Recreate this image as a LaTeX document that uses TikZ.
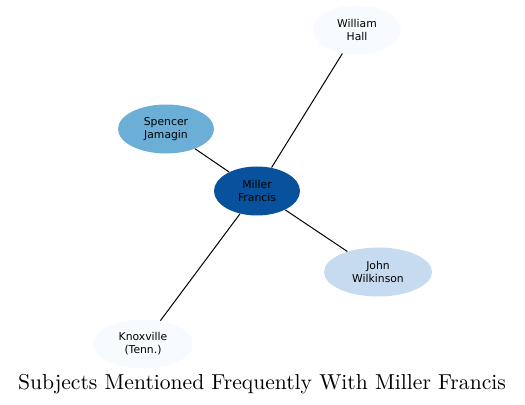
\documentclass[tikz,border=0pt]{standalone}
\usepackage{fontspec}
\usepackage{xcolor}
\usetikzlibrary{shapes.geometric, positioning}
\newfontfamily\subjfont{DejaVu Sans}
\definecolor{BlueDark}{HTML}{08519C}
\definecolor{BlueMid}{HTML}{6BAED6}
\definecolor{BlueLight}{HTML}{C6DBEF}
\definecolor{BlueFaint}{HTML}{F7FBFF}

\begin{document}
\begin{tikzpicture}[x=0.5pt, y=-0.5pt]

\tikzset{
subj/.style args={#1}{
ellipse,
fill=#1,
inner sep=0pt,
minimum height=24.5pt,
align=center,
font=\subjfont\fontsize{5.4}{6.6}\selectfont
},
link/.style={draw=black, line width=0.5pt}
}

\useasboundingbox (0,0) rectangle (525,405);

\node[subj=BlueDark, minimum width=43pt] (miller) at (257,191)
{Miller\\Francis};

\node[subj=BlueFaint, minimum width=44pt] (hall) at (357,30)
{William\\Hall};

\node[subj=BlueMid, minimum width=48pt] (jamagin) at (166,129)
{Spencer\\Jamagin};

\node[subj=BlueLight, minimum width=54pt] (wilkinson) at (378,272)
{John\\Wilkinson};

\node[subj=BlueFaint, minimum width=50pt] (knox) at (143,344)
{Knoxville\\(Tenn.)};

\draw[link] (miller) -- (hall);
\draw[link] (miller) -- (jamagin);
\draw[link] (miller) -- (wilkinson);
\draw[link] (miller) -- (knox);

\node[font=\fontsize{10.8}{12.5}\selectfont] (title) at (262,384)
{Subjects Mentioned Frequently With Miller Francis};

\end{tikzpicture}
\end{document}
